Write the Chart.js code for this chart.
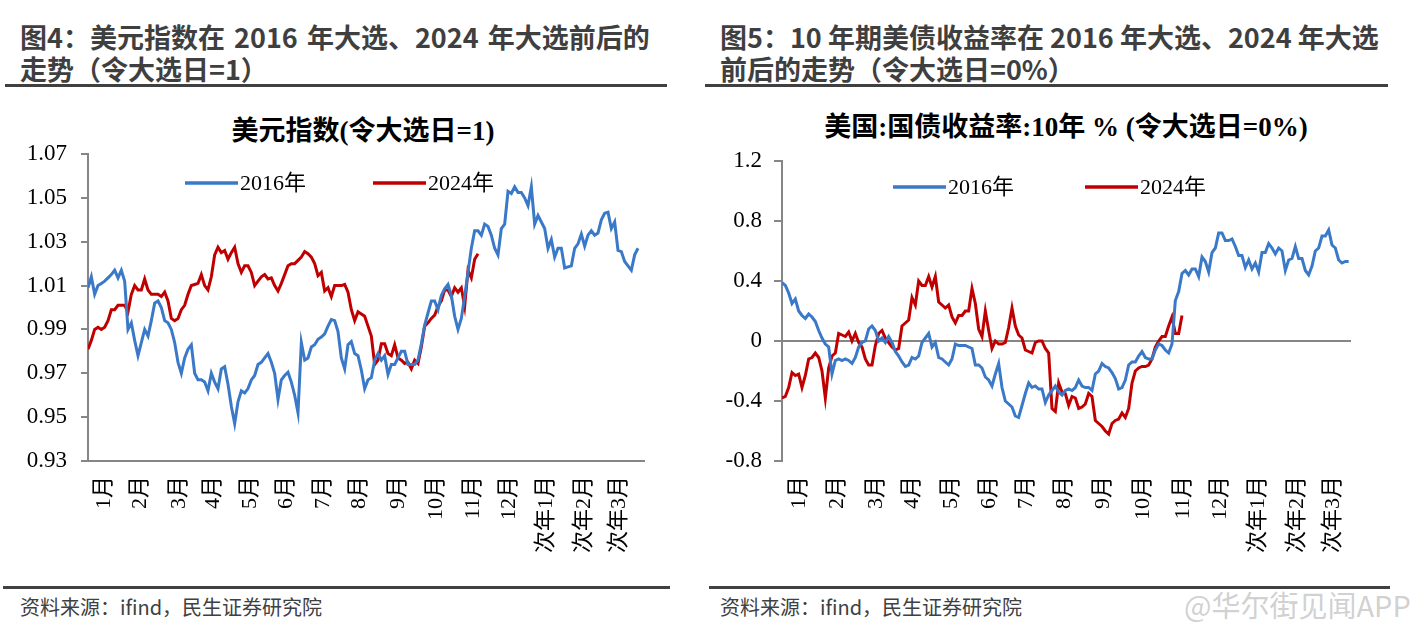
<!DOCTYPE html>
<html>
<head>
<meta charset="utf-8">
<script src="https://cdn.jsdelivr.net/npm/chart.js@4.4.1/dist/chart.umd.min.js"></script>
<style>
  body { margin: 0; background: #fff; width: 1417px; height: 634px; position: relative; overflow: hidden; }
  .head { position: absolute; top: 21px; font: bold 27px "Noto Sans CJK SC", sans-serif; color: #3f3f3f; line-height: 32px; white-space: nowrap; }
  .rule { position: absolute; height: 3px; background: #404040; }
  .src { position: absolute; top: 592px; font: 20px "Noto Sans CJK SC", sans-serif; color: #404040; }
  .ctitle { position: absolute; font: bold 27px "Liberation Serif", "Noto Sans CJK SC", serif; color: #000; white-space: nowrap; transform: translateX(-50%); }
  canvas { position: absolute; }
  .wm { position: absolute; left: 1184px; top: 583px; font: 29px "Noto Sans CJK SC", sans-serif; color: rgba(170,170,170,0.55); }
</style>
</head>
<body>
<div class="head" style="left:20px;word-spacing:3px">图4：美元指数在 2016 年大选、2024 年大选前后的<br>走势（令大选日=1）</div>
<div class="head" style="left:720px">图5：10 年期美债收益率在 2016 年大选、2024 年大选<br>前后的走势（令大选日=0%）</div>
<div class="rule" style="left:5px;width:662px;top:84px"></div>
<div class="rule" style="left:705px;width:683px;top:84px"></div>

<div class="ctitle" style="left:363px;top:109px">美元指数(令大选日=1)</div>
<div class="ctitle" style="left:1066px;top:105px">美国:国债收益率:10年 % (令大选日=0%)</div>

<canvas id="usdChart" width="680" height="480" style="left:0;top:100px"></canvas>
<canvas id="ustChart" width="690" height="480" style="left:700px;top:100px"></canvas>

<div class="rule" style="left:3px;width:667px;top:586px"></div>
<div class="rule" style="left:709px;width:681px;top:586px"></div>
<div class="src" style="left:20px">资料来源：ifind，民生证券研究院</div>
<div class="src" style="left:720px">资料来源：ifind，民生证券研究院</div>
<div class="wm">@华尔街见闻APP</div>

<script>
// 月份刻度
const monthLabels = ['1月', '2月', '3月', '4月', '5月', '6月', '7月', '8月', '9月', '10月', '11月', '12月', '次年1月', '次年2月', '次年3月'];
const usdMonthPos = [4.8, 15.6, 27.3, 37.5, 48.6, 59.4, 70.5, 81.3, 93, 104.4, 115.5, 126.3, 137.4, 148.8, 159.3];
const ustMonthPos = [5.1, 16.5, 28.2, 39, 50.7, 62.1, 73.2, 84.6, 96.3, 108.3, 120.3, 131.4, 142.8, 154.5, 165.3];
const seriesNames = ['2016年', '2024年'];

// 美元指数（令大选日=1）
const usd2016 = [
  1.009, 1.014, 1.006, 1.010, 1.011, 1.012, 1.0135, 1.015, 1.017, 1.0135,
  1.017, 1.012, 0.990, 0.993, 0.985, 0.978, 0.984, 0.990, 0.987, 0.994,
  1.002, 1.003, 1.000, 0.994, 0.993, 0.990, 0.984, 0.975, 0.970, 0.977,
  0.981, 0.983, 0.970, 0.967, 0.967, 0.966, 0.962, 0.970, 0.966, 0.963,
  0.972, 0.973, 0.965, 0.955, 0.947, 0.957, 0.962, 0.961, 0.963, 0.967,
  0.969, 0.974, 0.975, 0.977, 0.979, 0.975, 0.970, 0.958, 0.967, 0.969,
  0.9705, 0.966, 0.960, 0.952, 0.984, 0.976, 0.977, 0.982, 0.983, 0.9855,
  0.9865, 0.988, 0.9915, 0.9945, 0.994, 0.989, 0.977, 0.972, 0.983, 0.9845,
  0.979, 0.978, 0.9715, 0.963, 0.967, 0.968, 0.976, 0.979, 0.976, 0.978,
  0.9695, 0.974, 0.974, 0.977, 0.980, 0.980, 0.974, 0.974, 0.974, 0.976,
  0.9835, 0.992, 0.9975, 1.003, 1.003, 0.999, 1.0055, 1.0085, 1.0105, 1.0055,
  0.996, 0.990, 0.995, 1.005, 1.016, 1.027, 1.035, 1.035, 1.033, 1.038,
  1.037, 1.033, 1.027, 1.024, 1.036, 1.038, 1.053, 1.052, 1.055, 1.0525,
  1.0525, 1.050, 1.0465, 1.055, 1.038, 1.042, 1.039, 1.036, 1.027, 1.031,
  1.023, 1.027, 1.027, 1.018, 1.0185, 1.019, 1.027, 1.029, 1.0335, 1.028,
  1.033, 1.035, 1.033, 1.034, 1.040, 1.043, 1.0435, 1.036, 1.039, 1.026,
  1.0255, 1.021, 1.019, 1.017, 1.024, 1.027
];
const usd2024 = [
  0.981, 0.985, 0.990, 0.991, 0.990, 0.991, 0.994, 0.999, 0.999, 1.001,
  1.001, 1.001, 0.998, 1.006, 1.010, 1.008, 1.008, 1.013, 1.008, 1.006,
  1.006, 1.006, 1.005, 1.007, 1.003, 0.995, 0.994, 0.995, 0.999, 1.001,
  1.006, 1.010, 1.0105, 1.011, 1.015, 1.010, 1.008, 1.014, 1.024, 1.0275,
  1.025, 1.026, 1.022, 1.025, 1.0275, 1.020, 1.016, 1.019, 1.019, 1.016,
  1.010, 1.012, 1.014, 1.015, 1.013, 1.0135, 1.010, 1.0075, 1.011, 1.015,
  1.019, 1.020, 1.020, 1.0215, 1.023, 1.0255, 1.0245, 1.023, 1.020, 1.0145,
  1.016, 1.0075, 1.009, 1.005, 1.010, 1.010, 1.010, 1.0105, 1.007, 0.999,
  0.994, 0.998, 0.997, 0.996, 0.9915, 0.987, 0.974, 0.976, 0.9835, 0.9835,
  0.979, 0.978, 0.983, 0.977, 0.976, 0.9745, 0.975, 0.972, 0.976, 0.9745,
  0.982, 0.9915, 0.993, 0.995, 0.9965, 1.0005, 1.003, 1.008, 1.008, 1.005,
  1.009, 1.007, 1.009, 1.0005, 1.017, 1.0135, 1.022, 1.0245
];

// 美国10年期国债收益率变动（令大选日=0%）
const ust2016 = [
  0.39, 0.37, 0.32, 0.25, 0.28, 0.20, 0.17, 0.15, 0.18, 0.16,
  0.13, 0.07, 0.02, -0.02, -0.04, -0.22, -0.13, -0.12, -0.13, -0.12,
  -0.13, -0.15, -0.11, -0.04, -0.01, 0.00, 0.08, 0.10, 0.07, 0.00,
  0.02, -0.01, 0.03, -0.01, -0.07, -0.10, -0.14, -0.17, -0.16, -0.11,
  -0.12, -0.10, -0.01, 0.02, 0.05, -0.04, -0.01, -0.11, -0.12, -0.14,
  -0.16, -0.12, -0.02, -0.03, -0.03, -0.03, -0.04, -0.05, -0.16, -0.16,
  -0.18, -0.24, -0.26, -0.30, -0.22, -0.15, -0.31, -0.40, -0.42, -0.44,
  -0.50, -0.51, -0.43, -0.35, -0.28, -0.31, -0.30, -0.32, -0.32, -0.41,
  -0.36, -0.33, -0.30, -0.34, -0.36, -0.33, -0.32, -0.33, -0.31, -0.26,
  -0.30, -0.31, -0.31, -0.33, -0.22, -0.20, -0.15, -0.17, -0.18, -0.21,
  -0.25, -0.32, -0.31, -0.26, -0.16, -0.14, -0.14, -0.10, -0.07, -0.11,
  -0.12, -0.12, -0.06, -0.02, -0.03, -0.06, -0.08, -0.02, 0.27, 0.33,
  0.45, 0.47, 0.44, 0.48, 0.48, 0.43, 0.56, 0.53, 0.46, 0.59,
  0.62, 0.72, 0.72, 0.67, 0.67, 0.68, 0.63, 0.57, 0.57, 0.49,
  0.54, 0.48, 0.52, 0.46, 0.59, 0.59, 0.65, 0.62, 0.58, 0.62,
  0.60, 0.47, 0.54, 0.55, 0.63, 0.55, 0.55, 0.47, 0.44, 0.50,
  0.60, 0.62, 0.70, 0.70, 0.74, 0.64, 0.62, 0.54, 0.52, 0.53,
  0.53
];
const ust2024 = [
  -0.38, -0.37, -0.31, -0.21, -0.23, -0.22, -0.31, -0.23, -0.12, -0.11,
  -0.08, -0.11, -0.20, -0.38, -0.18, -0.10, -0.08, 0.05, 0.04, 0.03,
  0.06, 0.00, 0.05, -0.01, -0.04, -0.12, -0.16, -0.16, -0.03, 0.05,
  0.07, 0.02, -0.01, -0.04, -0.06, -0.05, 0.10, 0.12, 0.14, 0.29,
  0.24, 0.40, 0.37, 0.37, 0.43, 0.36, 0.43, 0.26, 0.24, 0.22,
  0.24, 0.16, 0.12, 0.17, 0.17, 0.20, 0.20, 0.35, 0.25, 0.08,
  0.03, 0.20, 0.07, -0.05, 0.00, -0.02, -0.02, -0.01, 0.09, 0.22,
  0.10, 0.04, 0.02, -0.06, -0.07, -0.08, -0.01, 0.00, 0.00, -0.05,
  -0.08, -0.45, -0.47, -0.28, -0.34, -0.35, -0.43, -0.37, -0.38, -0.45,
  -0.44, -0.42, -0.35, -0.37, -0.53, -0.55, -0.57, -0.60, -0.62, -0.55,
  -0.53, -0.52, -0.48, -0.51, -0.45, -0.28, -0.20, -0.18, -0.17, -0.17,
  -0.16, -0.12, -0.04, 0.00, 0.03, 0.03, 0.10, 0.16, 0.05, 0.05,
  0.17
];

const BLUE = '#3a78c8';
const RED = '#c00000';
const AXIS = '#868686';
const SERIF = '"Liberation Serif", "Noto Sans CJK SC", serif';

// 图内图例（画在绘图区内部）
const inLegend = {
    id: 'inLegend',
    afterDatasetsDraw(chart, args, opts) {
        const ctx = chart.ctx;
        const area = chart.chartArea;
        ctx.save();
        ctx.font = '22px ' + SERIF;
        ctx.textBaseline = 'middle';
        let x = area.left + opts.left;
        const y = area.top + opts.top;
        chart.data.datasets.forEach(ds => {
            ctx.strokeStyle = ds.borderColor;
            ctx.lineWidth = 3.5;
            ctx.beginPath();
            ctx.moveTo(x, y);
            ctx.lineTo(x + 53, y);
            ctx.stroke();
            ctx.fillStyle = '#000';
            ctx.fillText(ds.label, x + 55, y + 1);
            x += opts.step;
        });
        ctx.restore();
    }
};

const toPoints = arr => arr.map((v, i) => ({ x: i, y: v }));

function makeChart(id, cfg) {
    return new Chart(document.getElementById(id), {
        type: 'line',
        data: {
            datasets: [
                { label: seriesNames[0], data: toPoints(cfg.a), borderColor: BLUE, backgroundColor: BLUE, borderWidth: 3, pointRadius: 0, tension: 0 },
                { label: seriesNames[1], data: toPoints(cfg.b), borderColor: RED, backgroundColor: RED, borderWidth: 3, pointRadius: 0, tension: 0 }
            ]
        },
        options: {
            responsive: false,
            animation: false,
            layout: { padding: cfg.padding },
            plugins: {
                legend: { display: false },
                tooltip: { enabled: false },
                inLegend: cfg.legend
            },
            scales: {
                x: {
                    type: 'linear',
                    min: 0,
                    max: cfg.xMax,
                    afterBuildTicks: s => { s.ticks = cfg.monthPos.map(v => ({ value: v })); },
                    afterFit: s => { s.height = 119; },
                    ticks: {
                        autoSkip: false,
                        minRotation: 90,
                        maxRotation: 90,
                        padding: 15,
                        color: '#000',
                        font: { family: SERIF, size: 22 },
                        callback: (v, i) => monthLabels[i]
                    },
                    grid: { display: false, drawTicks: false },
                    border: { display: cfg.xBorder, color: AXIS, width: 2 }
                },
                y: {
                    min: cfg.yMin,
                    max: cfg.yMax,
                    afterFit: s => { s.width = cfg.yWidth; },
                    ticks: {
                        stepSize: cfg.yStep,
                        padding: cfg.yPad,
                        color: '#000',
                        font: { family: SERIF, size: 23 },
                        callback: cfg.yFmt
                    },
                    grid: {
                        drawOnChartArea: cfg.zeroLine,
                        color: c => (c.tick && c.tick.value === 0) ? AXIS : 'rgba(0,0,0,0)',
                        lineWidth: 2,
                        tickColor: AXIS,
                        tickLength: cfg.tickLen
                    },
                    border: { color: AXIS, width: 2 }
                }
            }
        },
        plugins: [inLegend]
    });
}

makeChart('usdChart', {
    a: usd2016, b: usd2024,
    xMax: 166.8, monthPos: usdMonthPos, xBorder: true,
    yMin: 0.93, yMax: 1.07, yStep: 0.02, yWidth: 88, yPad: 14, tickLen: 7,
    yFmt: v => v.toFixed(2),
    zeroLine: false,
    padding: { top: 54, right: 36, left: 0, bottom: 0 },
    legend: { left: 97, top: 29, step: 188 }
});

makeChart('ustChart', {
    a: ust2016, b: ust2024,
    xMax: 170.7, monthPos: ustMonthPos, xBorder: false,
    yMin: -0.8, yMax: 1.2, yStep: 0.4, yWidth: 82, yPad: 12, tickLen: 8,
    yFmt: v => String(Number(v.toFixed(1))),
    zeroLine: true,
    padding: { top: 61, right: 39, left: 0, bottom: 0 },
    legend: { left: 111, top: 26, step: 192 }
});
</script>
</body>
</html>
